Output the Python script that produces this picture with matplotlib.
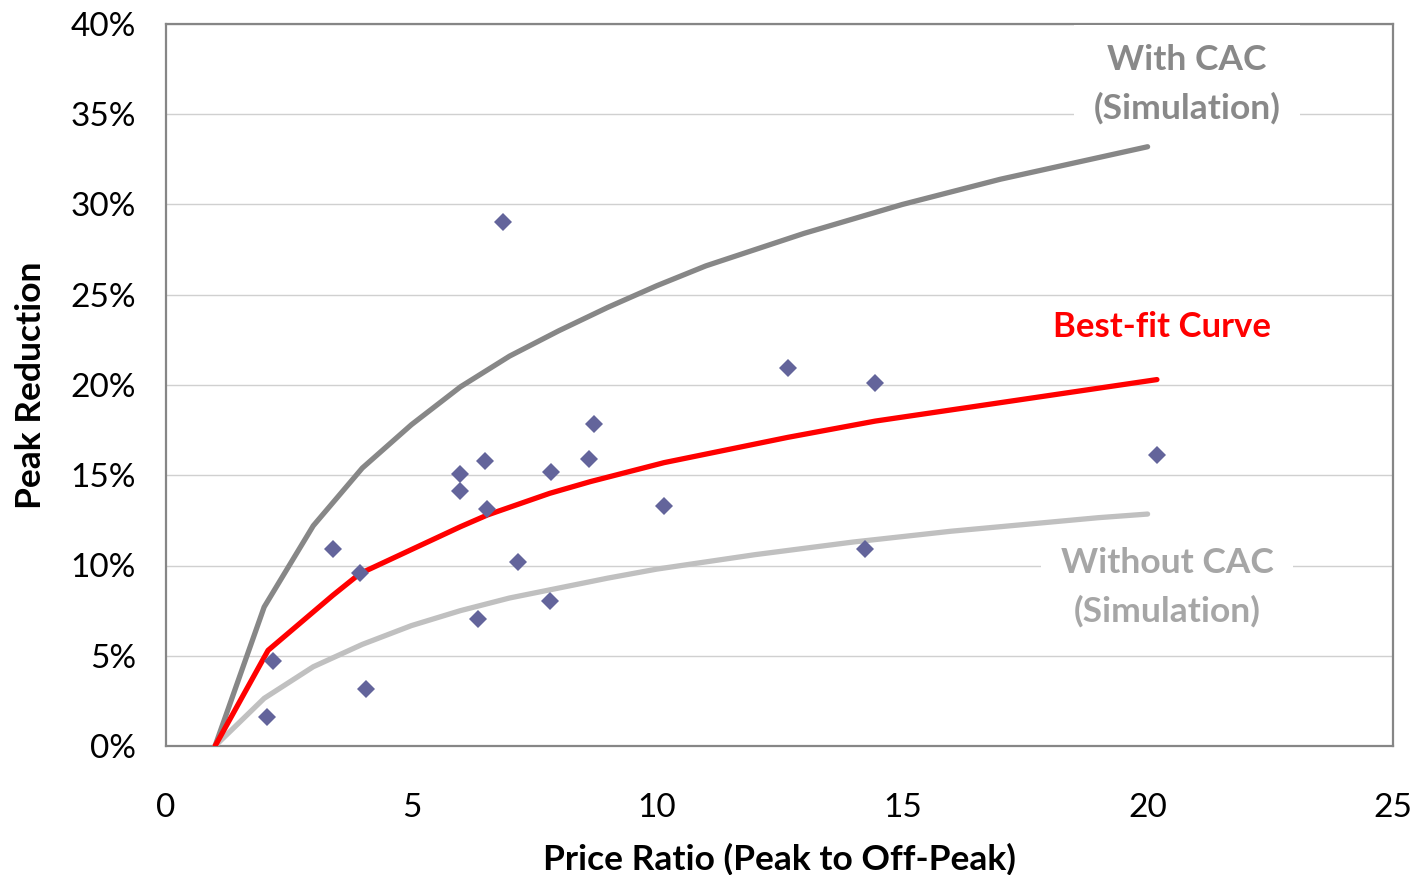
import matplotlib
matplotlib.use("Agg")
import matplotlib.pyplot as plt

plt.rcParams['font.family'] = ['Lato', 'DejaVu Sans']

# Observed data (price ratio vs. peak reduction, %)
ratio = [2.06, 2.19, 3.40, 3.95, 4.07, 6.00, 6.00, 6.36, 6.50, 6.55, 6.87,
         7.18, 7.82, 7.84, 8.61, 8.73, 10.15, 12.67, 14.24, 14.45, 20.19]
reduction = [1.63, 4.73, 10.93, 9.60, 3.14, 15.05, 14.13, 7.02, 15.79, 13.13, 29.01,
             10.21, 8.03, 15.20, 15.90, 17.84, 13.31, 20.96, 10.91, 20.13, 16.13]

# Best-fit curve
fit_x = [1.0, 2.08, 3.40, 3.95, 6.00, 6.55, 7.82, 8.65, 10.15, 12.67, 14.45, 20.19]
fit_y = [0.0, 5.3, 8.35, 9.55, 12.15, 12.8, 14.0, 14.65, 15.7, 17.1, 18.0, 20.3]

# Simulations
sim_x = [1, 2, 3, 4, 5, 6, 7, 8, 9, 10, 11, 12, 13, 14, 15, 16, 17, 18, 19, 20]
with_cac = [0.0, 7.7, 12.2, 15.4, 17.8, 19.9, 21.6, 23.0, 24.3, 25.5,
            26.6, 27.5, 28.4, 29.2, 30.0, 30.7, 31.4, 32.0, 32.6, 33.2]
without_cac = [0.0, 2.64, 4.39, 5.63, 6.67, 7.5, 8.2, 8.75, 9.3, 9.8,
               10.2, 10.6, 10.95, 11.3, 11.6, 11.9, 12.15, 12.4, 12.65, 12.85]

x_ticks = [0, 5, 10, 15, 20, 25]
y_ticks = [0, 5, 10, 15, 20, 25, 30, 35, 40]

fig = plt.figure(figsize=(14.16, 8.75), dpi=100)
ax = fig.add_axes([166/1416, 1-746/875, (1393-166)/1416, (746-24)/875])

ax.plot(sim_x, with_cac, color='#878787', lw=3.8, solid_capstyle='round', zorder=3)
ax.plot(sim_x, without_cac, color='#C0C0C0', lw=3.8, solid_capstyle='round', zorder=3)
ax.plot(fit_x, fit_y, color='#FF0000', lw=3.8, solid_capstyle='round', zorder=4)
ax.plot(ratio, reduction, linestyle='none', marker='D', markersize=8.8,
        color='#63649B', markeredgewidth=0, zorder=5)

ax.set_xlim(0, 25)
ax.set_ylim(0, 40)
ax.set_xticks(x_ticks)
ax.set_xticklabels([str(v) for v in x_ticks])
ax.set_yticks(y_ticks)
ax.set_yticklabels([f"{v}%" for v in y_ticks])
ax.tick_params(axis='both', length=0, labelsize=24, colors='black')
ax.tick_params(axis='y', pad=21.5)
ax.tick_params(axis='x', pad=34)
ax.grid(axis='y', color='#D0D0D0', lw=1.0, zorder=0)
ax.set_axisbelow(True)
for s in ax.spines.values():
    s.set_color('#868686')
    s.set_linewidth(1.6)

ax.set_xlabel('Price Ratio (Peak to Off-Peak)', fontsize=25.5, fontweight='bold', labelpad=14)
ax.set_ylabel('Peak Reduction', fontsize=25.5, fontweight='bold', labelpad=17)

box = dict(facecolor='white', edgecolor='none', pad=14)
ax.text(20.8, 36.65, 'With CAC\n(Simulation)', ha='center', va='center', fontsize=25.5,
        fontweight='bold', color='#898989', linespacing=1.58, bbox=box, zorder=6)
ax.text(20.3, 23.2, 'Best-fit Curve', ha='center', va='center', fontsize=25,
        fontweight='bold', color='#FF0000', zorder=6)
ax.text(20.4, 8.8, 'Without CAC\n(Simulation)', ha='center', va='center', fontsize=25.5,
        fontweight='bold', color='#A6A6A6', linespacing=1.58, bbox=box, zorder=6)

fig.savefig('out.png', dpi=100)
